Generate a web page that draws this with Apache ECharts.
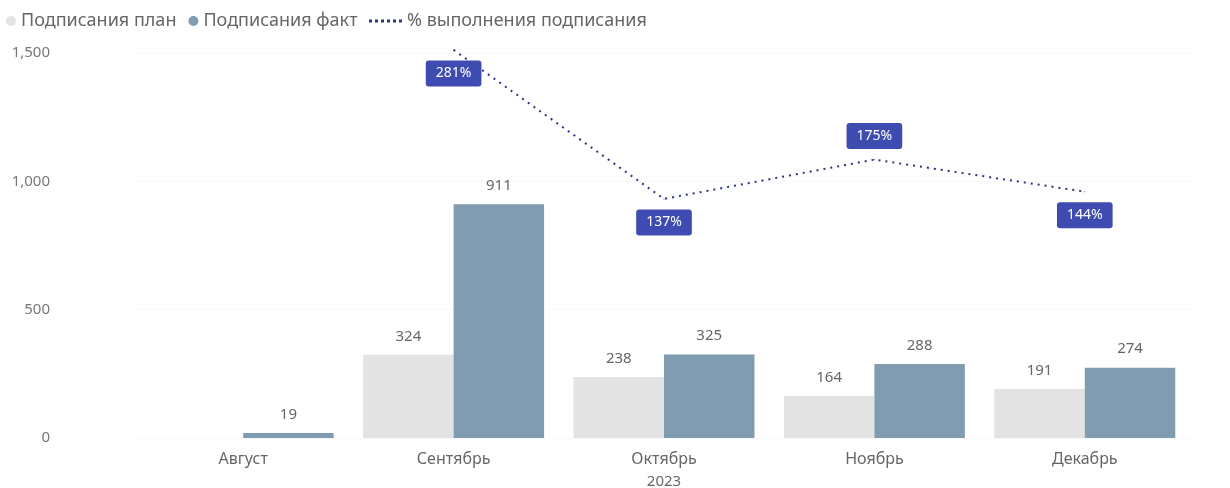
<!DOCTYPE html>
<html><head><meta charset="utf-8">
<script src="https://cdn.jsdelivr.net/npm/echarts@6/dist/echarts.min.js"></script>
<style>html,body{margin:0;padding:0;background:#fff}#c{width:1230px;height:488px}</style>
</head><body><div id="c"></div>
<script>
var categories = ['Август', 'Сентябрь', 'Октябрь', 'Ноябрь', 'Декабрь'];
var yearLabel = '2023';
var planValues = [null, 324, 238, 164, 191];
var factValues = [19, 911, 325, 288, 274];
var pctValues = [null, 281, 137, 175, 144];
var pctLabelPos = [null, 'bottom', 'bottom', 'top', 'bottom'];
var yTicks = [0, 500, 1000, 1500];
var seriesNames = ['Подписания план', 'Подписания факт', '% выполнения подписания'];

var font = 'Noto Sans';
var chart = echarts.init(document.getElementById('c'));
var dotsIcon = 'path://M0,0h3v3h-3zM6,0h3v3h-3zM12,0h3v3h-3zM18,0h3v3h-3zM24,0h3v3h-3zM30,0h3v3h-3z';

chart.setOption({
  backgroundColor: '#fff',
  animation: false,
  textStyle: { fontFamily: font },
  legend: [
    { data: [seriesNames[0], seriesNames[1]], left: 1, top: 7, icon: 'circle', itemWidth: 10, itemHeight: 10, itemGap: 12,
      textStyle: { color: '#666', fontSize: 18, fontFamily: font } },
    { data: [{ name: seriesNames[2], icon: dotsIcon }], left: 364, top: 7, itemWidth: 33, itemHeight: 3, itemGap: 10,
      textStyle: { color: '#666', fontSize: 18, fontFamily: font } }
  ],
  grid: { left: 138, right: 40, top: 53, bottom: 50, containLabel: false, outerBoundsMode: 'none' },
  xAxis: {
    type: 'category', data: categories,
    axisLine: { show: false }, axisTick: { show: false },
    axisLabel: { color: '#666', fontSize: 16, margin: 13, fontFamily: font },
    name: yearLabel, nameLocation: 'middle', nameGap: 36,
    nameTextStyle: { color: '#666', fontSize: 15, fontFamily: font }
  },
  yAxis: [
    { type: 'value', min: yTicks[0], max: yTicks[yTicks.length - 1], interval: 500,
      axisLabel: { color: '#777', fontSize: 15, margin: 88, fontFamily: font,
        formatter: function (v) { return v >= 1000 ? Math.floor(v / 1000) + ',' + String(v % 1000).padStart(3, '0') : String(v); } },
      splitLine: { show: true, lineStyle: { color: '#f2f2f2', type: 'dotted' } },
      axisLine: { show: false }, axisTick: { show: false } },
    { type: 'value', min: -94, max: 278, show: false, splitLine: { show: false } }
  ],
  series: [
    { name: seriesNames[0], type: 'bar', data: planValues, barGap: '0%', barCategoryGap: '14%',
      itemStyle: { color: '#e3e3e3' },
      label: { show: true, position: 'top', distance: 11, color: '#666', fontSize: 15, fontFamily: font } },
    { name: seriesNames[1], type: 'bar', data: factValues, barGap: '0%', barCategoryGap: '14%',
      itemStyle: { color: '#7f9cb0' },
      label: { show: true, position: 'top', distance: 11, color: '#666', fontSize: 15, fontFamily: font } },
    { name: seriesNames[2], type: 'line', yAxisIndex: 1, clip: false, showSymbol: true, symbol: 'circle', symbolSize: 1, connectNulls: false,
      lineStyle: { color: '#2b3580', width: 2, type: [2, 5] },
      itemStyle: { color: '#2b3580' },
      data: pctValues.map(function (v, i) {
        return { value: v, label: { show: v != null, position: pctLabelPos[i] } };
      }),
      label: { show: true, formatter: '{c}%', distance: 10, color: '#fff', fontSize: 14, fontFamily: font,
        backgroundColor: '#3e4cb2', borderRadius: 3, padding: [6, 10] }
    }
  ]
});
</script></body></html>
